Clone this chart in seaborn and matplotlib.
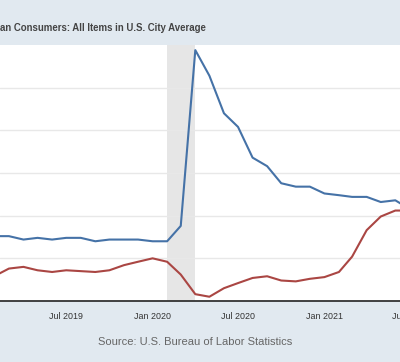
import pandas as pd
import seaborn as sns
import matplotlib.pyplot as plt

# monthly values, Feb 2019 .. Jul 2021
months = pd.date_range('2019-02-01', '2021-07-01', freq='MS')
unrate = [3.8, 3.8, 3.6, 3.7, 3.6, 3.7, 3.7, 3.5, 3.6, 3.6, 3.6,
          3.5, 3.5, 4.4, 14.7, 13.2, 11.0, 10.2, 8.4, 7.9, 6.9, 6.7, 6.7,
          6.3, 6.2, 6.1, 6.1, 5.8, 5.9, 5.4]
cpi_yoy = [1.5, 1.9, 2.0, 1.8, 1.7, 1.8, 1.75, 1.7, 1.8, 2.1, 2.3,
           2.5, 2.3, 1.55, 0.4, 0.25, 0.75, 1.05, 1.35, 1.45, 1.2, 1.15, 1.3,
           1.4, 1.7, 2.6, 4.15, 4.95, 5.3, 5.3]
tick_dates = ['2019-07-01', '2020-01-01', '2020-07-01', '2021-01-01']
tick_labels = ['Jul 2019', 'Jan 2020', 'Jul 2020', 'Jan 2021']
edge_tick = ('2021-07-01', 'Jul 2021')  # only partly visible at the right edge
recession = ('2020-02-01', '2020-04-01')
title = 'an Consumers: All Items in U.S. City Average'
source = 'Source: U.S. Bureau of Labor Statistics'

df = pd.DataFrame({'date': list(months) * 2,
                   'value': unrate + cpi_yoy,
                   'series': ['unrate'] * len(months) + ['cpi'] * len(months)})

sns.set_style('white')
plt.rcParams['font.family'] = ['Liberation Sans', 'DejaVu Sans']

bg = '#E1E9F0'
fig = plt.figure(figsize=(4, 3.62), dpi=100, facecolor=bg)
ax = fig.add_axes([0, 61 / 362, 1, 256 / 362])
ax.set_facecolor('white')

ax.axvspan(pd.Timestamp(recession[0]), pd.Timestamp(recession[1]),
           color='#E6E6E6', lw=0, zorder=0)
sns.lineplot(data=df, x='date', y='value', hue='series',
             palette={'unrate': '#4572A7', 'cpi': '#AA4643'},
             lw=1.5, legend=False, ax=ax, zorder=3)

ax.set_xticks([pd.Timestamp(d) for d in tick_dates])
ax.set_xticklabels(tick_labels, fontsize=6.4, color='#333333')
ax.tick_params(axis='x', length=5, color='#CCD6E0', pad=3)
ax.set_xlim(pd.Timestamp('2019-02-10'), pd.Timestamp('2021-06-11'))
ax.set_ylim(0, 15)
ax.set_yticks([2.5, 5, 7.5, 10, 12.5])
ax.yaxis.grid(True, color='#E8E8E8', lw=1)
ax.tick_params(axis='y', left=False, labelleft=False)
ax.set_xlabel('')
ax.set_ylabel('')
for s in ['top', 'left', 'right']:
    ax.spines[s].set_visible(False)
ax.spines['bottom'].set_color('#333333')
ax.spines['bottom'].set_linewidth(1.3)

# label of the next tick, beyond the right edge
ax.text(pd.Timestamp(edge_tick[0]), -0.043, edge_tick[1], fontsize=6.4,
        color='#333333', ha='center', va='top',
        transform=ax.get_xaxis_transform(), clip_on=False)

fig.text(0, 1 - 28 / 362, title, fontsize=6.9, fontweight='bold',
         color='#444444', ha='left', va='center')
fig.text(195.5 / 400, 1 - 342 / 362, source, fontsize=8, color='#666666',
         ha='center', va='center')

fig.savefig('out.png', dpi=100, facecolor=bg)
